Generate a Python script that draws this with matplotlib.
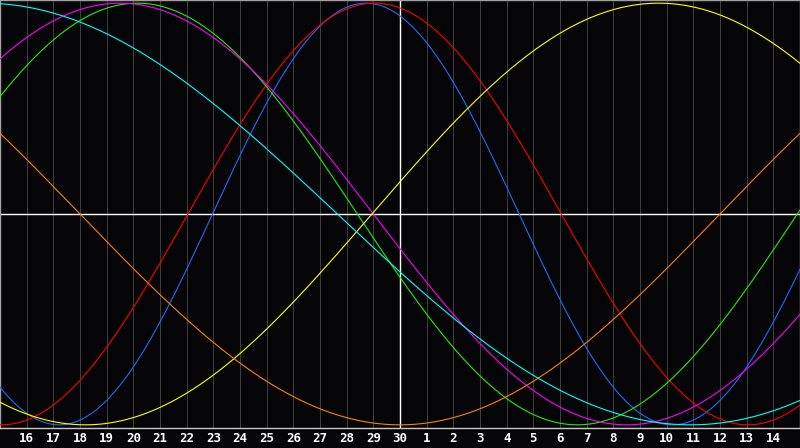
import numpy as np
import matplotlib.pyplot as plt

# etiquetas de los dias (el 30 es hoy, en el centro)
day_labels = [str(d) for d in range(16, 31)] + [str(d) for d in range(1, 15)]
today_pos = 15

# ciclos: duracion en dias y dia del maximo (0 = borde izquierdo)
cycle_names = ['fisico', 'emocional', 'intelectual', 'intuitivo', 'estetico', 'conciencia', 'espiritual']
cycle_periods = [23, 28, 33, 38, 43, 48, 53]
cycle_peaks = [13.72, 14.05, 5.15, 4.5, 24.7, -9.0, -0.6]
cycle_colors = ['#1a6cff', '#ff0000', '#22ee00', '#ff00ff', '#ffff00', '#ff8000', '#00ffff']

fig = plt.figure(figsize=(8, 4.48), dpi=100, facecolor='#050508')
ax = fig.add_axes([0, 20 / 448, 1, 428 / 448], facecolor='#050508')

n_days = len(day_labels) + 1
dias = np.linspace(0, n_days, 801)

# lineas verticales de cada dia
for k in range(1, n_days):
    ax.axvline(k, color='#3c3c3c', lw=0.75, zorder=1)

for nombre, periodo, pico, color in zip(cycle_names, cycle_periods, cycle_peaks, cycle_colors):
    valores = np.cos(2 * np.pi * (dias - pico) / periodo)
    ax.plot(dias, valores, color=color, lw=0.8, label=nombre, zorder=3)

# linea central y linea de hoy
ax.axhline(0, color='white', lw=1.0, zorder=2)
ax.axvline(today_pos, color='white', lw=1.0, zorder=2)

ax.set_xlim(0, n_days)
ax.set_ylim(-1.015, 1.015)
ax.set_yticks([])
ax.set_xticks(range(1, n_days))
ax.set_xticklabels(day_labels, color='white', fontsize=9,
                   fontweight='bold', family='DejaVu Sans Mono')
ax.tick_params(axis='x', length=0, pad=3)

for lado in ['top', 'left', 'right', 'bottom']:
    ax.spines[lado].set_color('#a0a0a0')
    ax.spines[lado].set_linewidth(1.0)
ax.spines['bottom'].set_color('#c8c8c8')

fig.savefig('out.png', dpi=100, facecolor=fig.get_facecolor())
